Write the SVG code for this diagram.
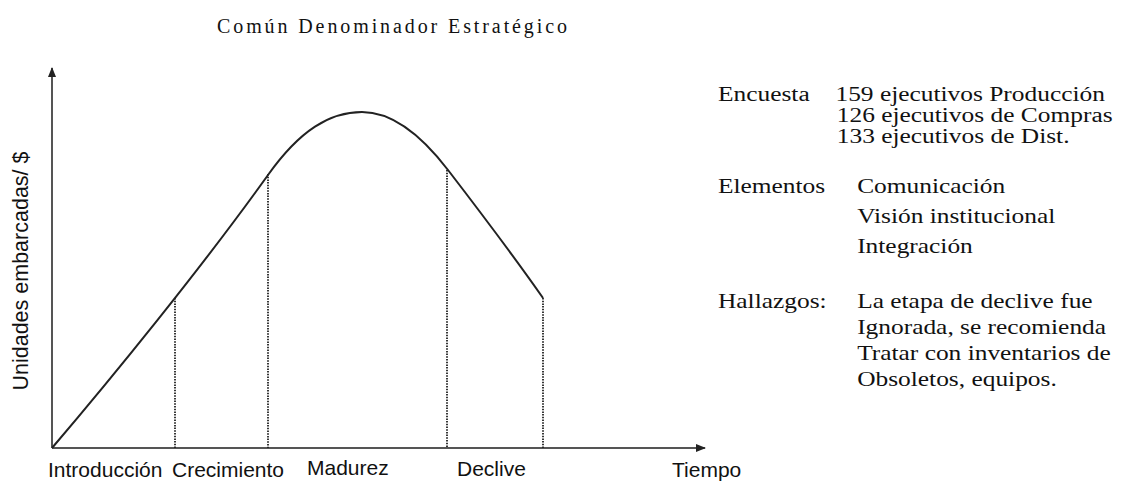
<svg xmlns="http://www.w3.org/2000/svg" width="1125" height="481" viewBox="0 0 1125 481">
<defs>
<style>
.ax{stroke:#555;stroke-width:2;fill:none}
.dot{stroke:#222;stroke-width:1.8;stroke-dasharray:1.5 1.2;fill:none}
.curve{stroke:#222;stroke-width:2;fill:none}
.lbl{font-family:"Liberation Sans",Arial,sans-serif;font-size:21px;fill:#111}
.rt{font-family:"Liberation Serif","Times New Roman",serif;font-size:21px;fill:#111}
.rs{font-family:"Liberation Serif","Times New Roman",serif;font-size:20px;fill:#111}
.title{font-family:"Liberation Serif","Times New Roman",serif;font-size:20px;fill:#111}
</style>
<marker id="arr" markerWidth="10" markerHeight="8" refX="9" refY="4" orient="auto" markerUnits="userSpaceOnUse">
<path d="M0,0 L10,4 L0,8 z" fill="#222"/>
</marker>
</defs>
<rect width="1125" height="481" fill="#fff"/>
<text id="title" class="title" x="217" y="33" textLength="350" lengthAdjust="spacing">Común Denominador Estratégico</text>
<g id="connectors">
<line class="ax" x1="52" y1="448" x2="52" y2="68" marker-end="url(#arr)"/>
<line class="ax" x1="52" y1="448" x2="705" y2="448" marker-end="url(#arr)"/>
<line class="dot" x1="175" y1="298" x2="175" y2="448"/>
<line class="dot" x1="268" y1="174" x2="268" y2="448"/>
<line class="dot" x1="447" y1="170" x2="447" y2="448"/>
<line class="dot" x1="543" y1="298" x2="543" y2="448"/>
<path class="curve" d="M52,448 C110,380 200,270 268,175 C300,130 330,112 362,112 C395,112 425,140 448,170 C478,209 515,258 543,298"/>
</g>
<g id="yaxis-label">
<text class="lbl" transform="translate(28,271) rotate(-90)" text-anchor="middle" style="font-size:21.5px">Unidades embarcadas/ $</text>
</g>
<g id="stages">
<text class="lbl" x="48" y="477">Introducción</text>
<text class="lbl" x="172" y="477">Crecimiento</text>
<text class="lbl" x="307" y="475">Madurez</text>
<text class="lbl" x="457" y="476">Declive</text>
<text class="lbl" x="672" y="477">Tiempo</text>
</g>
<g id="encuesta" transform="translate(718,0) scale(1.27,1)">
<text class="rs" x="0" y="101">Encuesta</text>
<text class="rs" x="92.5" y="101">159 ejecutivos Producción</text>
<text class="rs" x="93.5" y="122">126 ejecutivos de Compras</text>
<text class="rs" x="93.5" y="143">133 ejecutivos de Dist.</text>
</g>
<g id="elementos" transform="translate(718,0) scale(1.21,1)">
<text class="rt" x="0" y="193">Elementos</text>
<text class="rt" x="115" y="193">Comunicación</text>
<text class="rt" x="115" y="223">Visión institucional</text>
<text class="rt" x="115" y="253">Integración</text>
</g>
<g id="hallazgos" transform="translate(718,0) scale(1.21,1)">
<text class="rt" x="0" y="308">Hallazgos:</text>
<text class="rt" x="115" y="308">La etapa de declive fue</text>
<text class="rt" x="115" y="334">Ignorada, se recomienda</text>
<text class="rt" x="115" y="360">Tratar con inventarios de</text>
<text class="rt" x="115" y="386">Obsoletos, equipos.</text>
</g>
</svg>
